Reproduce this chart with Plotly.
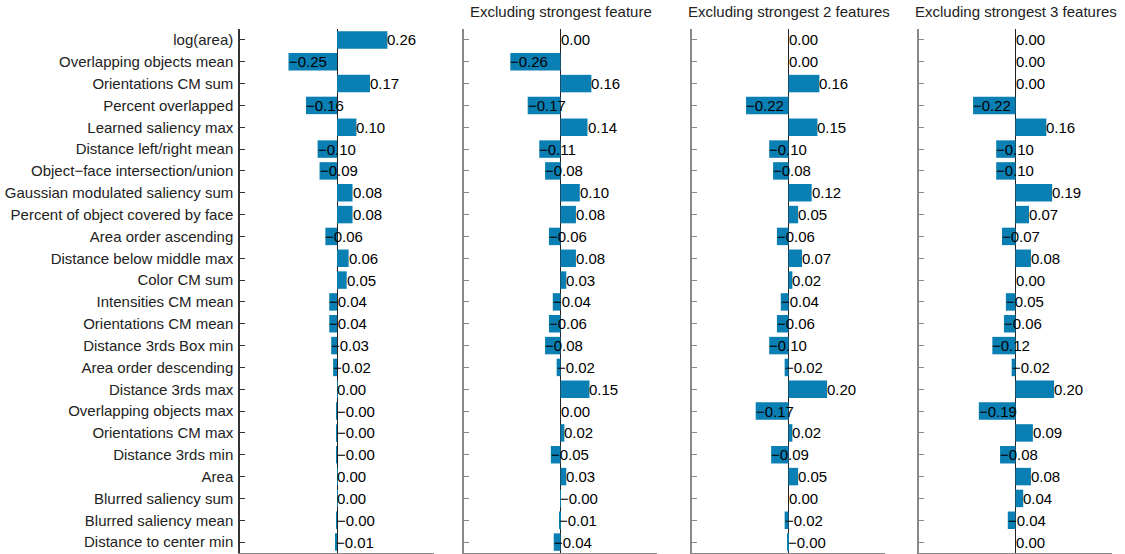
import plotly.graph_objects as go

features = [
    "log(area)", "Overlapping objects mean", "Orientations CM sum", "Percent overlapped",
    "Learned saliency max", "Distance left/right mean", "Object\u2212face intersection/union",
    "Gaussian modulated saliency sum", "Percent of object covered by face", "Area order ascending",
    "Distance below middle max", "Color CM sum", "Intensities CM mean", "Orientations CM mean",
    "Distance 3rds Box min", "Area order descending", "Distance 3rds max", "Overlapping objects max",
    "Orientations CM max", "Distance 3rds min", "Area", "Blurred saliency sum",
    "Blurred saliency mean", "Distance to center min",
]

titles = ["", "Excluding strongest feature", "Excluding strongest 2 features", "Excluding strongest 3 features"]

all_features = [0.26, -0.25, 0.17, -0.16, 0.10, -0.10, -0.09, 0.08, 0.08, -0.06, 0.06, 0.05,
                -0.04, -0.04, -0.03, -0.02, 0.0004, -0.0004, -0.0004, -0.0004, 0.0004, 0.0004, -0.0004, -0.006]
excl_1 = [0.0, -0.26, 0.16, -0.17, 0.14, -0.11, -0.08, 0.10, 0.08, -0.06, 0.08, 0.03,
          -0.04, -0.06, -0.08, -0.02, 0.15, 0.0, 0.02, -0.05, 0.03, -0.0004, -0.006, -0.035]
excl_2 = [0.0, 0.0, 0.16, -0.22, 0.15, -0.10, -0.08, 0.12, 0.05, -0.06, 0.07, 0.02,
          -0.04, -0.06, -0.10, -0.02, 0.20, -0.17, 0.02, -0.09, 0.05, 0.0, -0.02, -0.003]
excl_3 = [0.0, 0.0, 0.0, -0.22, 0.16, -0.10, -0.10, 0.19, 0.07, -0.07, 0.08, 0.0,
          -0.05, -0.06, -0.12, -0.02, 0.20, -0.19, 0.09, -0.08, 0.08, 0.04, -0.04, 0.0]

series = [all_features, excl_1, excl_2, excl_3]

BAR = "#0a7fb3"
FONT = "Liberation Sans, Arial, Helvetica, sans-serif"
domains = [(240, 434), (464, 657), (692, 885), (919, 1112)]
W, H = 1125, 554
ytop, ybot = 29, 553

fig = go.Figure()
annotations = []
n = len(features)

for i, vals in enumerate(series):
    k = "" if i == 0 else str(i + 1)
    fig.add_trace(go.Bar(
        x=vals, y=features, orientation="h", width=0.8,
        marker=dict(color=BAR, line=dict(width=0)),
        xaxis="x" + k, yaxis="y" + k, showlegend=False, hoverinfo="x+y",
    ))
    for f, v in zip(features, vals):
        annotations.append(dict(
            x=v, y=f, xref="x" + k, yref="y" + k, text=f"{v:.2f}".replace("-", "\u2212"),
            showarrow=False, xanchor="left", yanchor="middle", xshift=-2,
            font=dict(family=FONT, size=15, color="#000"),
        ))
    d0, d1 = domains[i]
    axline = "#333" if i == 0 else "#888"
    fig.layout["xaxis" + k] = dict(
        domain=[d0 / W, d1 / W], range=[-0.5, 0.5], anchor="y" + k,
        showgrid=False, zeroline=True, zerolinecolor="#222", zerolinewidth=1,
        showline=True, linecolor="#888", linewidth=1, ticks="", showticklabels=False,
        fixedrange=True,
    )
    fig.layout["yaxis" + k] = dict(
        domain=[1 - ybot / H, 1 - ytop / H], anchor="x" + k,
        type="category", categoryorder="array", categoryarray=features,
        range=[n - 0.5, -0.5], showgrid=False, zeroline=False,
        showline=True, linecolor=axline, linewidth=1.5,
        ticks="inside", ticklen=5, tickcolor=axline,
        showticklabels=(i == 0), ticklabelstandoff=2,
        tickfont=dict(family=FONT, size=15, color="#222"),
    )
    if titles[i]:
        annotations.append(dict(
            x=(d0 + d1) / 2 / W, y=1 - 12 / H, xref="paper", yref="paper",
            text=titles[i], showarrow=False, xanchor="center", yanchor="middle",
            font=dict(family=FONT, size=15, color="#222"),
        ))

fig.update_layout(
    width=W, height=H, margin=dict(l=0, r=0, t=0, b=0),
    paper_bgcolor="white", plot_bgcolor="white",
    annotations=annotations, bargap=0.2,
)

fig.write_html("out.html")
